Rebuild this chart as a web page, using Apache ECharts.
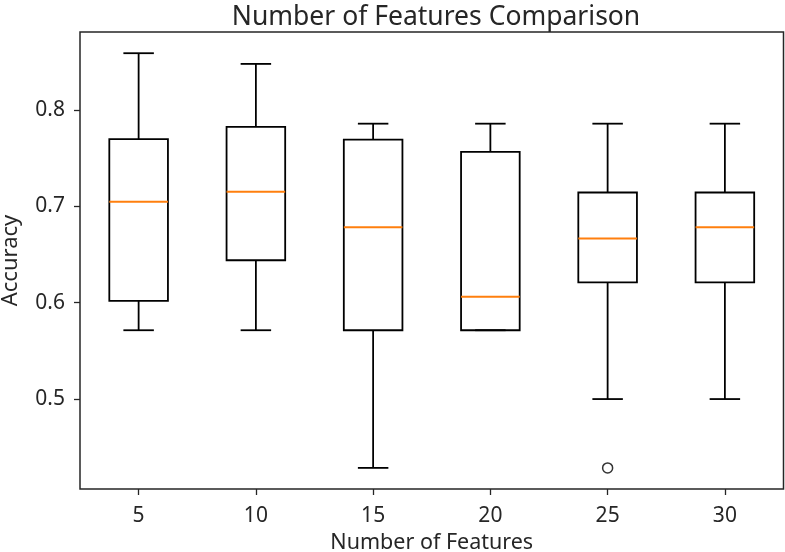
<!DOCTYPE html>
<html>
<head>
<meta charset="utf-8">
<script src="https://cdn.jsdelivr.net/npm/echarts@6/dist/echarts.min.js"></script>
<style>
html,body{margin:0;padding:0;background:#fff;}
#chart{width:785px;height:552px;}
</style>
</head>
<body>
<div id="chart"></div>
<script>
var categories = ['5', '10', '15', '20', '25', '30'];
var whiskerLow = [0.5714, 0.5714, 0.4286, 0.5714, 0.5000, 0.5000];
var q1 = [0.6018, 0.6440, 0.5714, 0.5714, 0.6211, 0.6211];
var medians = [0.7046, 0.7152, 0.6782, 0.6062, 0.6667, 0.6782];
var q3 = [0.7696, 0.7824, 0.7692, 0.7565, 0.7143, 0.7143];
var whiskerHigh = [0.8588, 0.8477, 0.7857, 0.7857, 0.7857, 0.7857];
var outliers = [[4, 0.4286]];
var yTicks = [0.5, 0.6, 0.7, 0.8];

var boxData = categories.map(function (c, i) {
  return [i, whiskerLow[i], q1[i], medians[i], q3[i], whiskerHigh[i]];
});

var FONT = 'Noto Sans';
var TXT = '#262626';

function renderBox(params, api) {
  var i = api.value(0);
  var band = api.size([1, 0])[0];
  var half = band * 0.25;
  var cap = band * 0.13;
  var pMin = api.coord([i, api.value(1)]);
  var pQ1 = api.coord([i, api.value(2)]);
  var pMed = api.coord([i, api.value(3)]);
  var pQ3 = api.coord([i, api.value(4)]);
  var pMax = api.coord([i, api.value(5)]);
  var x = pMed[0];
  var blk = { stroke: '#000', lineWidth: 1.8, fill: null };
  return {
    type: 'group',
    children: [
      { type: 'line', shape: { x1: x, y1: pQ1[1], x2: x, y2: pMin[1] }, style: blk },
      { type: 'line', shape: { x1: x, y1: pQ3[1], x2: x, y2: pMax[1] }, style: blk },
      { type: 'line', shape: { x1: x - cap, y1: pMin[1], x2: x + cap, y2: pMin[1] }, style: blk },
      { type: 'line', shape: { x1: x - cap, y1: pMax[1], x2: x + cap, y2: pMax[1] }, style: blk },
      { type: 'rect', shape: { x: x - half, y: pQ3[1], width: half * 2, height: pQ1[1] - pQ3[1] }, style: { stroke: '#000', lineWidth: 1.8, fill: 'none' } },
      { type: 'line', shape: { x1: x - half, y1: pMed[1], x2: x + half, y2: pMed[1] }, style: { stroke: '#ff7f0e', lineWidth: 2 } }
    ]
  };
}

var chart = echarts.init(document.getElementById('chart'), null, { renderer: 'canvas' });
chart.setOption({
  backgroundColor: '#fff',
  animation: false,
  title: {
    text: 'Number of Features Comparison',
    left: 431, top: -1, textAlign: 'center',
    textStyle: { fontFamily: FONT, fontSize: 26.5, fontWeight: 'normal', color: TXT }
  },
  grid: {
    left: 80, right: 1.5, top: 32, bottom: 63,
    containLabel: false,
    outerBoundsMode: 'none',
    show: true, borderColor: '#262626', borderWidth: 1.5, backgroundColor: 'transparent'
  },
  xAxis: {
    type: 'category',
    data: categories,
    name: 'Number of Features',
    nameLocation: 'middle',
    nameGap: 43,
    nameTextStyle: { fontFamily: FONT, fontSize: 21.5, color: TXT },
    axisLine: { show: false },
    axisTick: { show: true, alignWithLabel: true, length: 6, lineStyle: { color: '#262626', width: 1.3 } },
    axisLabel: { fontFamily: FONT, fontSize: 21, color: TXT, margin: 17 },
    splitLine: { show: false }
  },
  yAxis: {
    type: 'value',
    min: 0.4067,
    max: 0.8808,
    name: 'Accuracy',
    nameLocation: 'middle',
    nameGap: 58,
    nameTextStyle: { fontFamily: FONT, fontSize: 22, color: TXT, padding: [0, 0, 0, 0] },
    axisLine: { show: false },
    axisTick: { show: true, length: 6, customValues: yTicks, lineStyle: { color: '#262626', width: 1.3 } },
    axisLabel: {
      fontFamily: FONT, fontSize: 21, color: TXT, margin: 15,
      customValues: yTicks,
      formatter: function (v) { return v.toFixed(1); }
    },
    splitLine: { show: false }
  },
  series: [
    {
      type: 'custom',
      renderItem: renderBox,
      data: boxData,
      encode: { x: 0, y: [1, 2, 3, 4, 5] },
      silent: true
    },
    {
      type: 'scatter',
      data: outliers,
      symbol: 'circle',
      symbolSize: 10,
      itemStyle: { color: '#fff', borderColor: '#000', borderWidth: 1.5 },
      silent: true
    }
  ]
});
</script>
</body>
</html>
